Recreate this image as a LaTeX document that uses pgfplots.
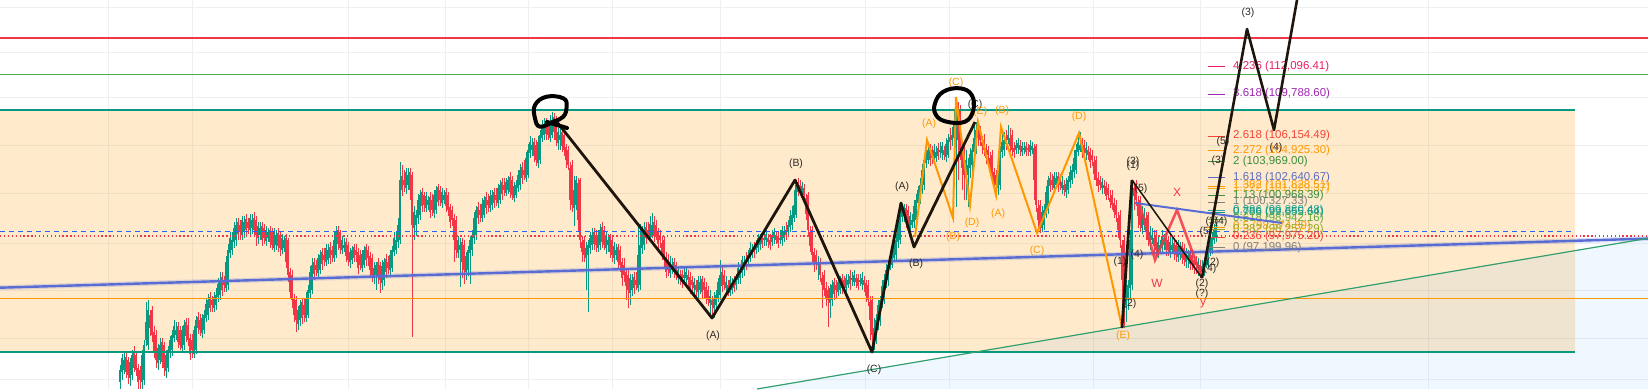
\documentclass[border=0pt]{standalone}
\usepackage{fontspec}
\setmainfont{Liberation Sans}
\usepackage{pgfplots}
\pgfplotsset{compat=1.18}
\usepackage{pgfplotstable}
\definecolor{cgreen}{RGB}{8,153,129}
\definecolor{cred}{RGB}{242,54,69}
\definecolor{gridc}{RGB}{238,239,243}
\definecolor{rorange}{RGB}{255,152,0}
\definecolor{lblue}{RGB}{33,150,243}
\definecolor{hgreen}{RGB}{76,175,80}
\definecolor{tealc}{RGB}{8,153,129}
\definecolor{dblue}{RGB}{41,98,255}
\definecolor{tblue}{RGB}{88,108,212}
\definecolor{dgreen}{RGB}{50,160,110}
\definecolor{wblack}{RGB}{30,22,12}
\definecolor{wlab}{RGB}{45,40,35}
\definecolor{fibpink}{RGB}{233,30,99}
\definecolor{fibpurple}{RGB}{156,39,176}
\definecolor{fibred}{RGB}{244,67,54}
\definecolor{fiborange}{RGB}{255,152,0}
\definecolor{fiborange2}{RGB}{247,170,30}
\definecolor{fibgreen}{RGB}{56,142,60}
\definecolor{fibblue}{RGB}{92,107,192}
\definecolor{fibgray}{RGB}{130,128,125}
\definecolor{fibteal}{RGB}{38,166,154}
\definecolor{fibteal2}{RGB}{8,153,129}
\definecolor{fibgreen2}{RGB}{100,170,60}
\definecolor{fibolive}{RGB}{150,170,40}
\newcommand\fibfont{\fontsize{11.5}{12}\selectfont}
\newcommand\wlfont{\fontsize{10.5}{11}\selectfont}
\newcommand\fib[3]{\addplot[#2,line width=1bp] coordinates {(1208,#1) (1225,#1)};
\node[anchor=west,text=#2,font=\fibfont,inner sep=0pt] at (axis cs:1233,#1) {#3};}
\newcommand\wl[3]{\node[font=\wlfont,text=wlab,inner sep=0pt] at (axis cs:#1,#2) {#3};}
\newcommand\ol[3]{\node[font=\wlfont,text=rorange,inner sep=0pt] at (axis cs:#1,#2) {#3};}
\pgfplotstableread{
x o c hi lo
120 382 370 365 389
124 370 360 352 374
128 360 375 357 384
132 375 355 350 380
136 355 370 352 376
140 370 380 366 389
144 380 345 340 385
148 345 310 300 350
152 310 335 306 342
156 335 360 330 368
160 360 345 338 364
164 345 368 342 376
168 368 350 346 372
172 350 335 330 356
176 335 330 322 340
180 330 345 326 350
184 345 325 320 350
188 325 340 318 346
192 340 350 334 358
196 350 320 316 354
200 320 330 314 336
204 330 315 310 334
208 315 300 294 320
212 300 305 296 312
216 305 295 288 310
220 295 280 272 300
224 280 285 276 292
228 285 250 244 290
232 250 240 232 255
236 240 225 218 246
240 225 232 220 240
244 232 222 216 238
248 222 228 218 234
252 228 220 214 234
256 220 235 216 246
260 235 228 222 240
264 228 238 224 244
268 238 232 228 242
272 232 245 228 250
276 245 235 230 250
280 235 248 232 256
284 248 240 236 252
288 240 275 238 282
292 275 300 270 308
296 300 320 296 332
300 320 305 300 326
304 305 315 298 322
308 315 290 285 318
312 290 265 258 294
316 265 270 260 276
320 270 255 250 274
324 255 260 248 266
328 260 250 244 264
332 250 255 246 262
336 255 232 226 258
340 232 248 230 254
344 248 245 238 252
348 245 260 242 266
352 260 250 246 264
356 250 255 244 262
360 255 265 250 270
364 265 250 246 268
368 250 258 246 266
372 258 275 254 282
376 275 265 262 290
380 265 280 262 293
384 280 262 258 286
388 262 268 256 274
392 268 250 246 272
396 250 240 232 254
400 240 180 162 244
404 180 185 170 192
408 185 175 168 190
412 175 225 172 337
416 225 215 210 236
420 215 195 190 220
424 195 205 192 212
428 205 200 196 210
432 200 210 194 216
436 210 190 186 214
440 190 200 186 206
444 200 195 190 204
448 195 210 192 216
452 210 220 206 226
456 220 250 216 258
460 250 245 238 287
464 245 270 240 284
468 270 250 246 276
472 250 235 230 256
476 235 210 206 240
480 210 215 204 222
484 215 200 196 218
488 200 205 194 212
492 205 195 190 210
496 195 200 188 206
500 200 185 180 204
504 185 190 178 196
508 190 180 176 194
512 180 195 176 200
516 195 185 180 198
520 185 170 164 190
524 170 175 160 180
528 175 150 144 178
532 150 145 138 156
536 145 160 140 166
540 160 135 130 164
544 135 125 118 140
548 125 135 120 140
552 135 120 112 138
556 120 140 116 146
560 140 135 128 150
564 135 150 130 156
568 150 165 146 170
572 165 205 160 212
576 205 180 176 210
580 180 240 178 248
584 240 255 236 262
588 255 245 240 312
592 245 235 228 250
596 235 245 230 252
600 245 230 224 250
604 230 245 226 250
608 245 240 234 252
612 240 255 236 262
616 255 250 244 260
620 250 265 246 272
624 265 275 258 282
628 275 290 270 308
632 290 280 274 296
636 280 285 272 290
640 285 245 224 290
644 245 230 222 250
648 230 235 222 240
652 235 225 213 238
656 225 235 220 240
660 235 240 230 248
664 240 260 236 268
668 260 270 254 276
672 270 265 258 274
676 265 275 262 280
680 275 278 270 285
684 278 275 268 282
688 275 280 270 286
692 280 285 276 292
696 285 290 280 296
700 290 282 276 294
704 282 290 278 298
708 290 300 286 306
712 300 305 296 318
716 305 295 290 310
720 295 275 260 300
724 275 285 270 290
728 285 290 280 296
732 290 285 278 294
736 285 278 274 290
740 278 270 266 284
744 270 262 256 276
748 262 255 250 266
752 255 250 244 258
756 250 245 240 254
760 245 240 234 250
764 240 238 232 246
768 238 242 234 248
772 242 235 230 246
776 235 240 232 244
780 240 238 230 244
784 238 232 226 242
788 232 225 220 236
792 225 215 206 230
796 215 185 180 218
800 185 188 180 194
804 188 195 184 200
808 195 230 192 236
812 230 255 226 262
816 255 262 250 270
820 262 275 258 282
824 275 290 270 296
828 290 300 286 327
832 300 285 280 306
836 285 290 280 298
840 290 280 276 294
844 280 285 276 290
848 285 280 274 288
852 280 278 272 286
856 278 282 274 288
860 282 280 274 286
864 280 285 276 292
868 285 300 280 306
872 300 335 296 352
876 335 320 314 344
880 320 300 296 326
884 300 280 274 304
888 280 265 260 286
892 265 255 248 268
896 255 240 234 260
900 240 215 203 244
904 215 210 204 222
908 210 225 206 230
912 225 220 214 228
916 220 200 194 224
920 200 185 178 204
924 185 160 154 190
928 160 150 143 164
932 150 158 146 164
936 158 152 146 162
940 152 150 142 158
944 150 155 146 160
948 155 140 134 158
952 140 135 127 146
956 135 110 97 207
960 110 150 105 160
964 150 175 145 200
968 175 165 158 207
972 165 150 144 172
976 150 130 122 154
980 130 140 126 146
984 140 150 134 156
988 150 155 146 162
992 155 175 150 182
996 175 185 170 195
1000 185 150 146 190
1004 150 140 132 156
1008 140 135 125 144
1012 135 150 130 156
1016 150 145 140 154
1020 145 150 140 156
1024 150 148 142 154
1028 148 150 144 156
1032 150 146 142 154
1036 146 205 144 212
1040 205 225 200 233
1044 225 210 204 230
1048 210 180 176 214
1052 180 185 174 190
1056 185 178 172 188
1060 178 185 174 190
1064 185 190 180 196
1068 190 180 176 194
1072 180 170 164 184
1076 170 150 144 174
1080 150 145 132 152
1084 145 150 140 156
1088 150 155 146 160
1092 155 160 150 166
1096 160 180 156 186
1100 180 185 176 190
1104 185 188 180 194
1108 188 195 184 200
1112 195 205 190 210
1116 205 215 200 222
1120 215 240 210 248
1124 240 300 236 328
1128 300 285 280 310
1132 285 185 180 290
1136 185 200 180 206
1140 200 225 196 232
1144 225 215 208 230
1148 215 240 212 246
1152 240 235 228 244
1156 235 250 230 256
1160 250 245 240 254
1164 245 240 234 250
1168 240 250 236 256
1172 250 245 238 254
1176 245 255 240 262
1180 255 248 242 260
1184 248 260 244 266
1188 260 255 250 268
1192 255 262 250 270
1196 262 265 256 274
1200 265 270 260 278
1204 270 265 258 276
1208 265 250 246 268
1212 250 238 232 254
1216 238 228 222 242
122 372 358 354 380
126 357 372 352 378
130 378 362 358 386
134 352 368 346 372
138 368 382 364 389
142 382 355 350 389
146 340 322 302 346
150 315 328 310 336
154 332 352 326 358
158 363 348 344 370
162 342 362 338 368
166 371 355 350 378
170 352 340 336 358
174 338 326 320 342
178 326 342 322 348
182 348 330 326 352
186 322 336 318 342
190 338 354 334 360
194 354 330 326 358
198 317 328 312 334
202 333 318 314 338
206 318 304 298 322
210 297 308 292 312
214 308 297 292 312
218 297 284 278 302
222 277 290 272 296
226 288 262 256 292
230 253 238 232 258
234 242 228 222 248
238 222 234 218 240
242 235 220 216 240
246 219 230 214 236
250 230 218 214 236
254 218 230 212 236
258 238 226 222 244
262 226 240 222 246
266 241 230 226 246
270 230 242 226 248
274 248 232 228 252
278 233 246 228 252
282 250 238 234 254
286 238 262 234 268
290 272 292 268 298
294 298 315 294 322
298 324 310 306 330
302 302 318 298 324
306 318 298 292 322
310 293 272 266 298
314 262 274 258 280
318 273 258 254 278
322 252 264 248 270
326 262 248 244 266
330 247 258 242 264
334 258 240 232 262
338 230 244 226 250
342 250 240 236 254
346 242 256 238 262
350 262 252 248 268
354 247 258 244 262
358 252 268 248 274
362 268 254 250 272
366 247 260 244 266
370 256 270 252 278
374 278 268 262 284
378 262 276 258 284
382 283 266 260 290
386 259 272 254 278
390 270 255 250 276
394 252 238 232 256
398 242 225 218 248
402 176 190 165 196
406 188 172 168 194
410 172 190 168 200
414 228 212 206 240
418 218 200 194 224
422 192 206 188 212
426 208 196 192 212
430 197 212 192 218
434 213 195 190 218
438 187 202 184 206
442 203 192 188 208
446 192 206 188 212
450 207 222 204 228
454 218 240 214 262
458 253 240 236 258
462 242 262 238 278
466 272 256 252 280
470 253 240 236 284
474 238 218 212 244
478 207 218 202 224
482 218 204 198 222
486 197 208 192 214
490 208 196 190 212
494 192 203 188 208
498 203 188 184 208
502 182 194 178 200
506 193 182 178 196
510 177 192 172 198
514 198 186 182 202
518 188 175 170 192
522 167 178 162 184
526 178 158 152 182
530 153 142 136 158
534 142 156 138 162
538 163 142 136 168
542 138 128 120 142
546 122 134 118 140
550 138 125 115 142
554 117 132 113 140
558 143 132 128 150
562 132 146 128 152
566 147 160 144 168
570 168 200 162 210
574 208 190 176 226
578 183 220 178 232
582 242 252 236 262
586 258 248 242 290
590 248 238 232 254
594 232 244 228 250
598 248 235 230 252
602 227 242 222 248
606 248 236 232 254
610 237 252 234 258
614 258 246 242 264
618 247 262 244 270
622 262 278 258 286
626 272 286 268 300
630 293 278 274 305
634 277 288 272 294
638 288 255 226 292
642 248 232 226 254
646 227 238 222 244
650 238 224 216 242
654 222 236 216 242
658 232 244 228 250
662 243 254 236 260
666 257 272 252 278
670 273 262 256 278
674 262 272 258 278
678 278 270 266 284
682 274 282 270 288
686 278 272 268 284
690 277 288 272 294
694 288 282 278 294
698 292 280 276 298
702 279 292 276 298
706 287 298 282 304
710 303 296 290 316
714 308 298 292 318
718 298 282 278 302
722 272 286 266 292
726 288 282 276 294
730 293 280 276 296
734 282 288 276 292
738 280 268 262 284
742 273 260 256 278
746 260 265 252 270
750 258 248 242 262
754 247 252 242 258
758 248 238 234 252
762 236 244 232 248
766 240 234 230 246
770 240 245 234 250
774 238 232 228 244
778 236 243 232 248
782 240 230 226 246
786 230 235 222 240
790 227 216 210 232
794 218 205 190 222
798 182 192 178 196
802 192 186 182 198
806 198 214 194 220
810 232 246 226 252
814 252 265 248 272
818 265 262 256 280
822 278 285 272 308
826 288 298 282 306
830 303 288 284 318
834 282 294 278 300
838 292 282 276 296
842 278 288 274 294
846 288 278 274 292
850 276 284 270 290
854 282 275 270 286
858 278 286 274 290
862 284 278 272 290
866 283 296 280 302
870 302 320 296 340
874 338 328 318 350
878 322 305 300 330
882 302 286 280 308
886 282 270 264 288
890 267 258 252 270
894 258 245 240 262
898 242 226 220 248
902 217 208 204 222
906 208 220 204 228
910 228 216 212 232
914 222 206 200 228
918 203 190 186 208
922 188 170 164 194
926 163 152 146 168
930 147 160 144 166
934 160 150 144 164
938 148 156 143 160
942 153 146 142 160
946 157 144 138 162
950 137 142 128 150
954 138 125 110 160
958 115 140 102 180
962 148 168 142 190
966 178 160 150 200
970 168 154 148 178
974 152 138 126 160
978 128 138 122 146
982 142 146 136 154
986 148 158 144 164
990 158 166 152 176
994 172 182 168 192
998 188 170 162 195
1002 152 142 130 158
1006 138 144 130 150
1010 138 146 128 152
1014 148 152 142 158
1018 148 143 138 154
1022 152 146 142 156
1026 146 152 142 156
1030 152 145 140 156
1034 148 180 144 200
1038 208 220 200 230
1042 228 212 206 232
1046 212 192 186 218
1050 178 186 172 192
1054 188 176 172 192
1058 176 186 172 192
1062 188 182 176 194
1066 192 184 178 198
1070 182 172 166 188
1074 172 158 150 178
1078 152 142 132 156
1082 143 152 138 158
1086 153 148 142 160
1090 152 162 148 168
1094 162 174 156 180
1098 178 186 172 192
1102 188 182 178 194
1106 186 196 182 200
1110 198 202 190 208
1114 203 212 198 218
1118 218 230 212 238
1122 245 280 240 325
1126 305 290 280 322
1130 288 240 230 300
1134 188 196 182 210
1138 202 216 196 228
1142 228 214 206 234
1146 218 232 212 240
1150 242 232 226 250
1154 238 246 230 254
1158 252 242 236 258
1162 248 236 230 252
1166 238 250 232 256
1170 252 242 236 258
1174 243 254 238 260
1178 257 246 240 262
1182 246 258 242 264
1186 262 252 248 268
1190 253 264 248 270
1194 260 268 256 274
1198 268 262 258 276
1202 272 266 260 278
1206 262 255 250 268
1210 252 242 236 256
1214 240 230 224 244
}\candles
\begin{document}
\begin{tikzpicture}
\begin{axis}[width=1648bp,height=389bp,scale only axis,
  xmin=0,xmax=1648,ymin=0,ymax=389,y dir=reverse,hide axis,clip=true,
  colormap={cndl}{rgb255=(242,54,69) rgb255=(8,153,129)},
  point meta min=0,point meta max=1]
% grid
\pgfplotsinvokeforeach{108,192,348,445,528,612,720,865,949,1093,1200,1428}{
  \addplot[gridc,line width=1bp] coordinates {(#1,0) (#1,389)};}
\pgfplotsinvokeforeach{8,52,97,145,193,243,290,338,379}{
  \addplot[gridc,line width=1bp] coordinates {(0,#1) (1648,#1)};}
% zones
\addplot[fill=rorange,fill opacity=0.2,draw=none] coordinates {(0,110) (1575,110) (1575,352) (0,352) (0,110)};
\addplot[fill=lblue,fill opacity=0.07,draw=none] coordinates {(757,389) (1648,238.3) (1648,389) (757,389)};
% candles
\addplot[quiver={u=0,v=\thisrow{lo}-\thisrow{hi},colored={mapped color}},-,line width=0.8bp,
  point meta={ifthenelse(\thisrow{c}<\thisrow{o},1,0)}] table[x=x,y=hi]{\candles};
\addplot[quiver={u=0,v=\thisrow{c}-\thisrow{o},colored={mapped color}},-,line width=1.6bp,
  point meta={ifthenelse(\thisrow{c}<\thisrow{o},1,0)}] table[x=x,y=o]{\candles};
% horizontal lines
\addplot[cred,line width=2bp] coordinates {(0,38) (1648,38)};
\addplot[hgreen,line width=1.3bp] coordinates {(0,74.7) (1648,74.7)};
\addplot[tealc,line width=1.5bp] coordinates {(0,110) (1575,110)};
\addplot[tealc,line width=1.5bp] coordinates {(0,352) (1575,352)};
\addplot[rorange,line width=1.3bp] coordinates {(0,298.3) (1648,298.3)};
\addplot[dblue,line width=1.2bp,dash pattern=on 5bp off 4bp] coordinates {(0,231.3) (1571,231.3)};
\addplot[cred,line width=1.2bp,dash pattern=on 1.3bp off 2.6bp] coordinates {(0,236) (1648,236)};
% trend lines
\addplot[tblue,line width=5bp,opacity=0.2] coordinates {(0,287.7) (1648,238.6)};
\addplot[tblue,line width=2.4bp] coordinates {(0,287.7) (1648,238.6)};
\addplot[dgreen,line width=1.2bp] coordinates {(757,389) (1648,238.3)};
% fib levels
\fib{66.7}{fibpink}{4.236 (112,096.41)}
\fib{94}{fibpurple}{3.618 (109,788.60)}
\fib{136}{fibred}{2.618 (106,154.49)}
\fib{150.7}{fiborange}{2.272 (104,925.30)}
\fib{161.7}{fibgreen}{2 (103,969.00)}
\fib{177.3}{fibblue}{1.618 (102,640.67)}
\fib{186}{fiborange}{1.382 (101,828.51)}
\fib{188.8}{fiborange2}{1.272 (101,929.37)}
\fib{195.5}{fibgreen}{1.13 (100,968.39)}
\fib{202}{fibgray}{1 (100,327.33)}
\fib{210.5}{fibteal}{0.886 (99,880.48)}
\fib{212.7}{fibteal2}{0.786 (99,655.64)}
\fib{219}{fibgreen2}{0.618 (98,942.16)}
\fib{227}{fiborange}{0.5 (98,574.89)}
\fib{229.3}{fibolive}{0.382 (98,257.29)}
\fib{237}{fibred}{0.236 (97,975.20)}
\fib{247.3}{fibgray}{0 (97,199.96)}
% wave structures
\addplot[rorange,line width=2bp] coordinates {(915,237) (927,140) (953,218) (956,97) (970,205) (978,122) (996,195) (1001,127) (1037,233) (1079,133) (1122,327)};
\addplot[cred,line width=2.6bp,opacity=0.85] coordinates {(1140,205) (1155,260) (1177,210) (1202,278)};
\addplot[tblue,line width=2bp] coordinates {(1135,203) (1282,223)};
\addplot[wblack,line width=2.8bp,line join=round] coordinates {(557,122) (712,318) (795,180) (872,352) (901,203) (914,247) (975,122)};
\addplot[wblack,line width=2.8bp] coordinates {(1122,328) (1132,180)};
\addplot[wblack,line width=1.5bp] coordinates {(1132,180) (1202,278)};
\addplot[wblack,line width=2.6bp,line join=round] coordinates {(1202,278) (1247,29) (1274,130) (1297,0)};
% labels
\wl{713}{336}{(A)}
\wl{796}{164}{(B)}
\wl{874}{370}{(C)}
\wl{902}{187}{(A)}
\wl{916}{264}{(B)}
\wl{975}{105}{(C)}
\wl{1133}{166}{(1)}
\wl{1133}{162}{(3)}
\wl{1141}{189}{(5)}
\wl{1137}{255}{(4)}
\wl{1120}{262}{(1)}
\wl{1130}{304}{(2)}
\wl{1213}{263}{(2)}
\wl{1210}{269}{(4)}
\wl{1202}{284}{(2)}
\wl{1202}{294}{(?)}
\wl{1212}{222}{(3)}
\wl{1221}{222}{(4)}
\wl{1206}{232}{(5)}
\wl{1218}{161}{(3)}
\wl{1223}{142}{(5)}
\wl{1276}{148}{(4)}
\wl{1248}{13}{(3)}
\ol{929}{124}{(A)}
\ol{953}{237}{(B)}
\ol{956}{83}{(C)}
\ol{972}{223}{(D)}
\ol{980}{112}{(E)}
\ol{998}{214}{(A)}
\ol{1002}{111}{(B)}
\ol{1037}{251}{(C)}
\ol{1079}{117}{(D)}
\ol{1123}{336}{(E)}
\node[font=\fontsize{12}{12}\selectfont,text=cred,inner sep=0pt] at (axis cs:1177,192) {X};
\node[font=\fontsize{12}{12}\selectfont,text=cred,inner sep=0pt] at (axis cs:1157,283) {W};
\node[font=\fontsize{12}{12}\selectfont,text=cred,inner sep=0pt] at (axis cs:1203,304) {y};
% hand drawn circles
\addplot[black,line width=4bp,smooth cycle,tension=0.7] coordinates {(535,105) (546.7,96.7) (563.3,98.3) (566.7,106.7) (563.3,116.7) (553.3,121.7) (540,126.7) (535,118.3)};
\addplot[black,line width=4bp,line cap=round] coordinates {(547,122) (567,128)};
\addplot[black,line width=4bp,smooth cycle,tension=0.7] coordinates {(935,103.3) (943.3,91.7) (960,88.3) (971.7,95) (973.3,110) (965,121.7) (946.7,121.7) (936,115)};
\end{axis}
\end{tikzpicture}
\end{document}
